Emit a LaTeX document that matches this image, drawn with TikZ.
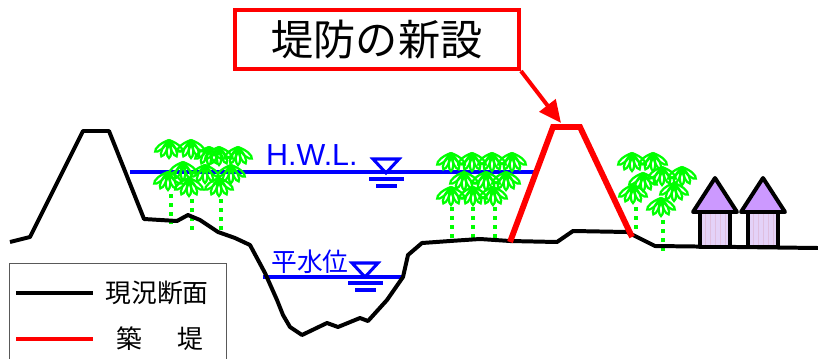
\documentclass[tikz,border=0pt]{standalone}
\usepackage{fontspec}
\setmainfont{Liberation Sans}
\newfontfamily\jafont{Noto Sans CJK JP}
\usetikzlibrary{arrows.meta}

\definecolor{roofcol}{RGB}{204,153,255}
\definecolor{facecol}{RGB}{228,210,248}
\definecolor{leafcol}{RGB}{0,255,0}

\tikzset{
	ground/.style = {draw=black, line width=3.4pt, line join=round},
	dike/.style = {draw=red, line width=5pt, line join=miter},
	wlevel/.style = {draw=blue, line width=2.6pt},
	leaf/.style = {draw=leafcol, line width=1.9pt},
	trunk/.style = {draw=leafcol, line width=3.4pt, dash pattern=on 3.4pt off 4.3pt},
	wall/.style = {draw=black, line width=3.4pt, line join=round},
	pointer/.style = {draw=red, line width=3.4pt,
		-{Triangle[length=19pt, width=17pt]}},
	% one bamboo crown, hanging down from its top point
	palm/.pic = {
		\foreach \a in {40,65,90,115,140}
			\draw[leaf] (0,0) .. controls (\a+22:9) and (\a+9:17) .. (\a:18)
				.. controls (\a-9:17) and (\a-22:9) .. (0,0);
	},
	% water level mark
	wmark/.pic = {
		\draw[wlevel, line join=miter] (-13,-14) -- (13,-14) -- (0,0) -- cycle;
		\draw[wlevel] (-17,6) -- (18,6);
		\draw[wlevel] (-10,13) -- (11,13);
	},
	house/.pic = {
		\fill[facecol] (-15,34) rectangle (15,69);
		\draw[violet!25, very thin, step=5] (-15,34) grid (15,69);
		\draw[wall] (-15,34) rectangle (15,69);
		\draw[wall, fill=roofcol] (-22,34) -- (0,0) -- (22,34) -- cycle;
	}
}

\begin{document}
\begin{tikzpicture}[x=0.3mm, y=-0.3mm]
\useasboundingbox (0,0) rectangle (818,359);

% water levels
\draw[wlevel] (130,172) -- (538,172);
\draw[wlevel] (263,277) -- (404,277);
\node[text=blue, font=\fontsize{26}{28}\selectfont, anchor=base west, inner sep=0]
	(hwl) at (266,165) {H.W.L.};
\pic at (386,173) {wmark};
\node[text=blue, font=\jafont\fontsize{22}{24}\selectfont, inner sep=0]
	(nwl) at (310,262) {平水位};
\pic at (365,277) {wmark};

% bamboo groves
\foreach \x/\y in {169/140,191/140,209/147,219/147,238/147,
		183/162,205/165,231/165,168/172,189/178,219/178}
	\pic at (\x,\y) {palm};
\foreach \x/\y in {451/153,472/153,492/153,512/153,
		464/172,486/172,506/172,451/187,473/187,493/187}
	\pic at (\x,\y) {palm};
\foreach \x/\y in {632/153,653/153,662/167,682/167,643/173,
		633/185,674/183,661/198}
	\pic at (\x,\y) {palm};
\foreach \x/\a/\b in {171/194/224,192/199/230,221/199/230,
		452/207/238,473/207/238,495/207/238,636/207/232,663/220/251}
	\draw[trunk] (\x,\a) -- (\x,\b);

% present section
\draw[ground] (10,242) -- (30,237) -- (83,131) -- (109,131) -- (144,219)
	-- (177,221) -- (188,215) -- (200,220) -- (218,232) -- (235,238)
	-- (250,245) -- (265,273) -- (277,300) -- (283,315) -- (290,327)
	-- (302,335) -- (327,323) -- (338,327) -- (360,318) -- (368,321)
	-- (387,300) -- (403,277) -- (408,255) -- (422,243) -- (450,241)
	-- (480,239) -- (510,241) -- (557,242) -- (573,231) -- (627,232)
	-- (655,246) -- (818,248);

% new levee
\draw[dike] (510,242) -- (553,127) coordinate (dtop) -- (580,127) -- (632,237);

% houses
\pic at (715,178) {house};
\pic at (763,178) {house};

% callout
\node[draw=red, line width=3.4pt, minimum width=85.2mm, minimum height=17.7mm,
	font=\jafont\fontsize{36}{40}\selectfont] (title) at (377,39.5) {堤防の新設};
\coordinate (tip) at (561,123);
\draw[pointer] (title.south east) -- (tip);

% legend
\draw[gray!70!black, line width=0.8pt] (9,263) rectangle (226,370);
\draw[black, line width=4.2pt] (16,293) -- (93,293);
\draw[red, line width=4.2pt] (16,339) -- (93,339);
\node[font=\jafont\fontsize{22}{24}\selectfont, inner sep=0] (lgcur) at (157,293) {現況断面};
\node[font=\jafont\fontsize{22}{24}\selectfont, inner sep=0] (lgnew) at (160,339) {築\hspace{1.35em}堤};
\end{tikzpicture}
\end{document}
